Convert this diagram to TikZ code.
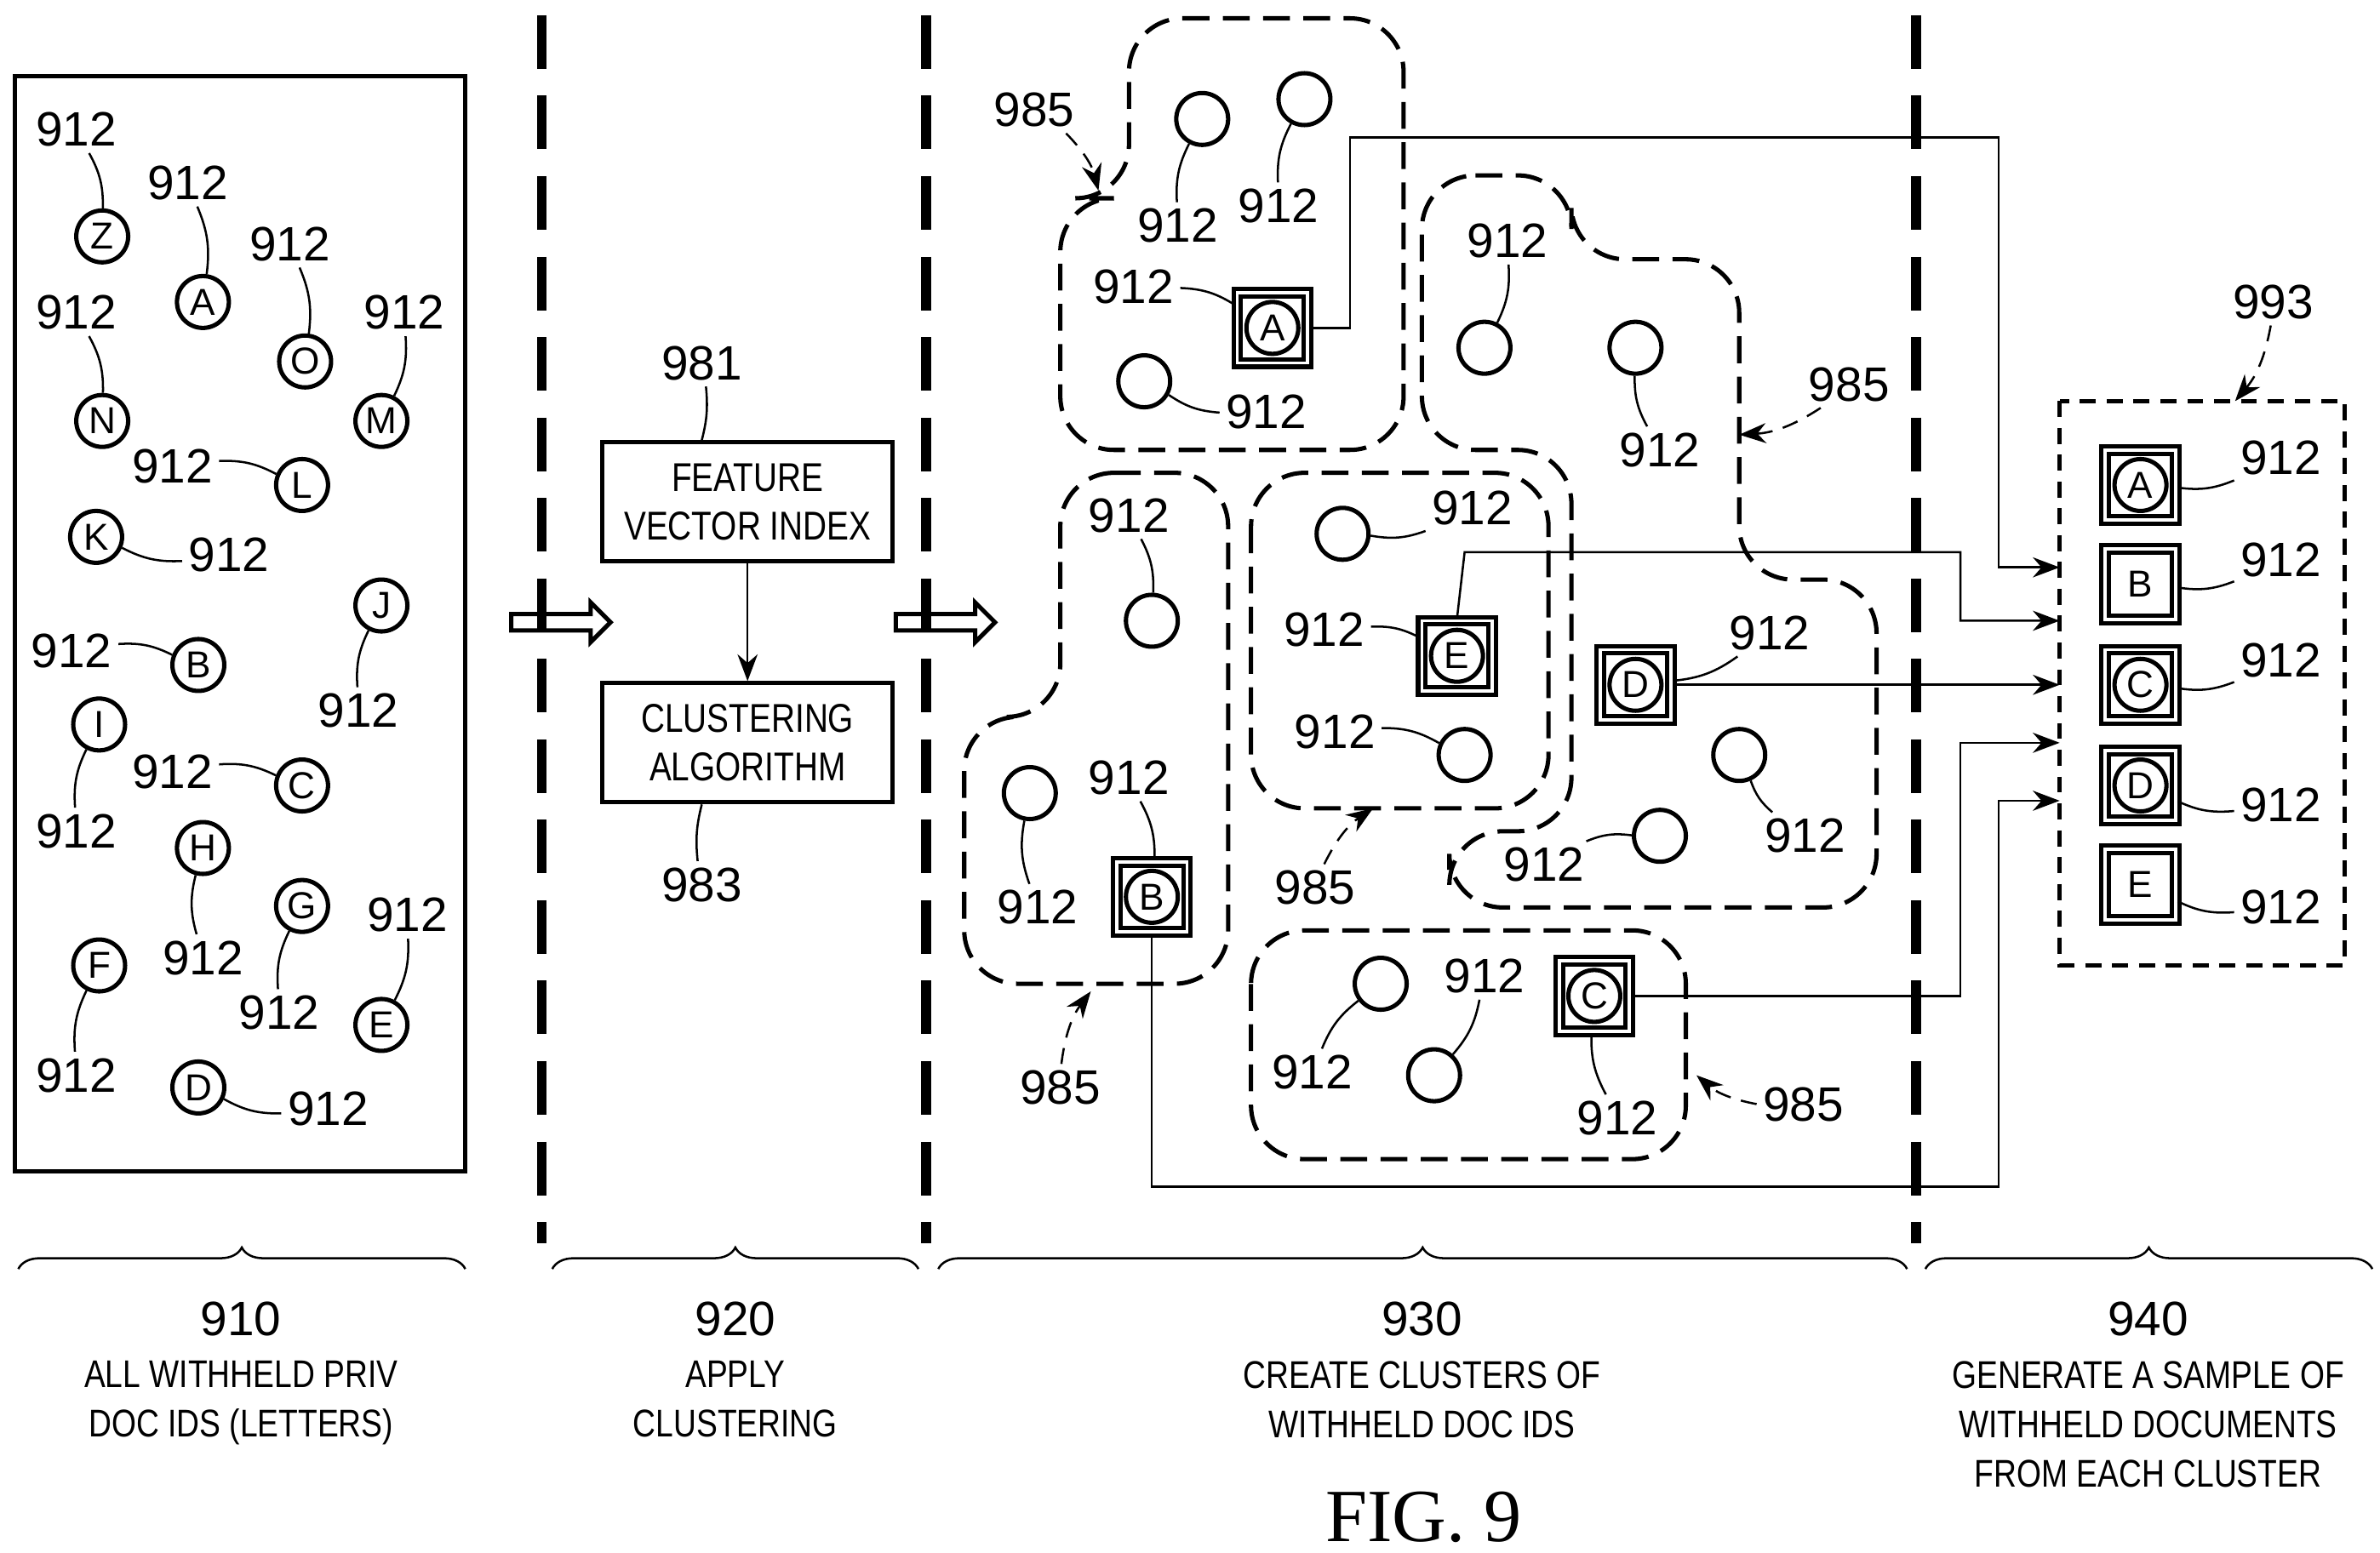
\documentclass[tikz,border=0pt]{standalone}
\usepackage{fontspec}
\setmainfont{Liberation Sans}
\newfontfamily\figfont{Liberation Serif}
\newfontfamily\narrowfont[FakeStretch=0.82]{Liberation Sans}
\usetikzlibrary{shapes.arrows,decorations.pathreplacing,arrows.meta}
\tikzset{
  doc/.style={circle,draw,thick,minimum size=0.34cm,inner sep=0pt,font=\fontsize{7}{8}\selectfont},
  sqdoc/.style={draw,thick,double,double distance=0.6pt,minimum size=0.46cm,inner sep=0pt},
  lbl/.style={font=\fontsize{9}{10}\selectfont,inner sep=1pt},
  caption/.style={font=\narrowfont\fontsize{7.2}{9.2}\selectfont,align=center},
  box/.style={draw,thick,font=\narrowfont\fontsize{7.5}{9}\selectfont,align=center,minimum width=1.9cm,minimum height=0.78cm},
  cluster/.style={thick,dash pattern=on 5pt off 2.5pt,rounded corners=10pt},
  divider/.style={line width=1.8pt,dash pattern=on 10pt off 5pt},
  conn/.style={-{Stealth[length=5pt]}},
  block/.style={single arrow,draw,thick,minimum height=0.65cm,minimum width=0.26cm,single arrow head extend=2pt,inner sep=1pt}
}
\begin{document}
\begin{tikzpicture}[x=0.01cm,y=-0.01cm]
\useasboundingbox (0,0) rectangle (1560,1018);

% 910: all withheld ids
\draw[thick] (10,50) rectangle (305,768);
\foreach \n/\x/\y/\lx/\ly in {Z/67/155/50/85, A/133/198/123/120, O/200/237/190/160,
  M/250/276/265/205, N/67/276/50/205, L/198/318/113/306, K/63/352/150/364,
  J/250/397/235/466, B/130/436/47/427, I/65/475/50/545, C/198/515/113/506,
  H/133/556/133/628, G/198/594/183/664, E/250/672/267/600, F/65/633/50/705,
  D/130/713/215/727}{
  \node[doc] (a\n) at (\x,\y) {\n};
  \node[lbl] (la\n) at (\lx,\ly) {912};
  \draw (la\n) to[bend left=15] (a\n);
}

% dividers
\foreach \x in {355,607,1256}
  \draw[divider] (\x,10) -- (\x,815);
\node[block] (step1) at (365,408) {};
\node[block] (step2) at (617,408) {};

% 920: clustering
\node[box] (fvi) at (490,329) {FEATURE\\VECTOR INDEX};
\node[box] (alg) at (490,487) {CLUSTERING\\ALGORITHM};
\draw[conn] (fvi) -- (alg);
\node[lbl] (l981) at (460,238) {981};
\node[lbl] (l983) at (460,580) {983};
\draw (l981) to[bend left=10] (fvi.north -| l981);
\draw (l983) to[bend left=10] (alg.south -| l983);

% 930: clusters
\draw[cluster] (740,12) -- (920,12) -- (920,295) -- (695,295) -- (695,130) -- (740,130) -- cycle;
\draw[cluster] (932,115) -- (1030,115) -- (1030,170) -- (1140,170) -- (1140,380) -- (1230,380)
  -- (1230,595) -- (950,595) -- (950,545) -- (1030,545) -- (1030,295) -- (932,295) -- cycle;
\draw[cluster] (820,310) rectangle (1015,530);
\draw[cluster] (695,310) -- (805,310) -- (805,645) -- (632,645) -- (632,470) -- (695,470) -- cycle;
\draw[cluster] (820,610) rectangle (1105,760);

\foreach \i/\x/\y/\lx/\ly in {1/788/78/772/148, 2/855/65/838/135, 3/750/250/830/270,
  4/973/228/988/158, 5/1072/228/1088/295, 6/755/407/740/338, 7/880/350/965/333,
  8/960/495/875/480, 9/1140/495/1183/548, 10/1088/548/1012/567, 11/675/520/680/595,
  12/905/645/860/703, 13/940/705/973/640}{
  \node[doc] (c\i) at (\x,\y) {};
  \node[lbl] (lc\i) at (\lx,\ly) {912};
  \draw (lc\i) to[bend left=15] (c\i);
}
\foreach \n/\x/\y/\lx/\ly in {A/834/215/743/188, E/955/430/868/413, D/1072/449/1160/415,
  B/755/588/740/510, C/1045/653/1060/733}{
  \node[sqdoc] (s\n) at (\x,\y) {};
  \node[doc] (k\n) at (\x,\y) {\n};
  \node[lbl] (ls\n) at (\lx,\ly) {912};
  \draw (ls\n) to[bend left=15] (s\n);
}
\foreach \i/\lx/\ly/\tx/\ty in {1/678/72/720/125, 2/1212/252/1140/285, 3/862/582/900/530,
  4/695/713/715/650, 5/1182/724/1112/705}{
  \node[lbl] (l985\i) at (\lx,\ly) {985};
  \coordinate (t985\i) at (\tx,\ty);
  \draw[conn,densely dashed] (l985\i) to[bend left=15] (t985\i);
}

% 940: sample
\draw[thick,densely dashed] (1350,263) rectangle (1537,633);
\node[lbl] (l993) at (1490,198) {993};
\coordinate (t993) at (1465,263);
\draw[conn,densely dashed] (l993) to[bend left=15] (t993);
\foreach \n/\y/\ly/\c in {A/318/300/1, B/383/367/0, C/449/433/1, D/515/528/1, E/580/595/0}{
  \node[sqdoc] (g\n) at (1403,\y) {};
  \ifnum\c=1 \node[doc] at (1403,\y) {\n}; \else \node[font=\fontsize{7}{8}\selectfont] at (1403,\y) {\n}; \fi
  \node[lbl] (lg\n) at (1495,\ly) {912};
  \draw (lg\n) to[bend left=15] (g\n);
}

% connectors to sample
\coordinate (inA) at (1350,372);
\coordinate (inE) at (1350,407);
\coordinate (inD) at (1350,449);
\coordinate (inC) at (1350,487);
\coordinate (inB) at (1350,525);
\draw[conn] (sA.east) -- (885,215) -- (885,90) -- (1310,90) -- (1310,372) -- (inA);
\draw[conn] (sE.north) -- (960,362) -- (1285,362) -- (1285,407) -- (inE);
\draw[conn] (sD.east) -- (inD);
\draw[conn] (sC.east) -- (1285,653) -- (1285,487) -- (inC);
\draw[conn] (sB.south) -- (755,778) -- (1310,778) -- (1310,525) -- (inB);

% braces and captions
\foreach \a/\b/\m/\num/\txt in {12/305/158/910/{ALL WITHHELD PRIV\\DOC IDS (LETTERS)},
  362/602/482/920/{APPLY\\CLUSTERING},
  615/1250/932/930/{CREATE CLUSTERS OF\\WITHHELD DOC IDS},
  1262/1555/1408/940/{GENERATE A SAMPLE OF\\WITHHELD DOCUMENTS\\FROM EACH CLUSTER}}{
  \draw[decorate,decoration={brace,amplitude=4pt}] (\a,832) -- (\b,832);
  \node[lbl] (n\num) at (\m,865) {\num};
  \node[caption,anchor=north] (t\num) at (\m,880) {\txt};
}
\node[font=\figfont\fontsize{14}{16}\selectfont] (fig) at (933,995) {FIG. 9};
\end{tikzpicture}
\end{document}
